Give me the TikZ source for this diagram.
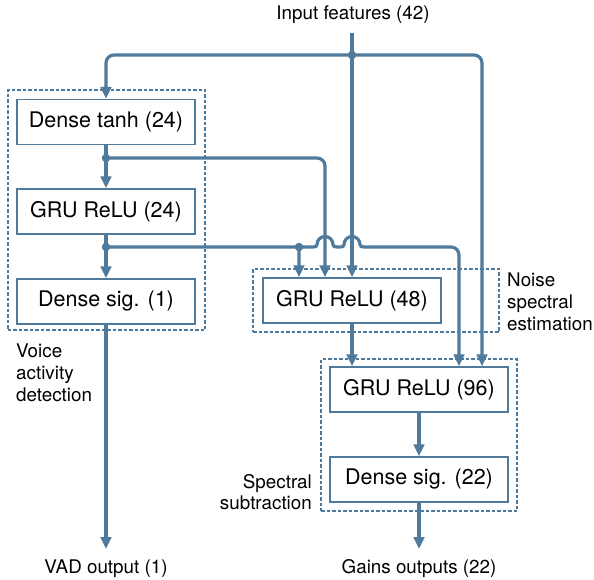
\documentclass[tikz,border=0pt]{standalone}
\usepackage{fontspec}
\setmainfont{TeX Gyre Heros}
\usetikzlibrary{arrows.meta}
\definecolor{lc}{HTML}{4F7A9B}
\begin{document}
\begin{tikzpicture}[x=1bp,y=-1bp,
  box/.style={draw=lc,line width=1.3bp,minimum width=178bp,minimum height=45bp,inner sep=0pt,
    font=\fontsize{21.5bp}{26bp}\selectfont},
  grp/.style={draw=lc,line width=1.1bp,dash pattern=on 3.5bp off 2bp,inner sep=0pt,outer sep=0pt},
  lbl/.style={inner sep=0pt,font=\fontsize{18.8bp}{21.7bp}\selectfont},
  wire/.style={draw=lc,line width=3.2bp,rounded corners=8bp},
  conn/.style={wire,-{Triangle[width=10.5bp,length=12bp]}},
  dot/.style={circle,fill=lc,inner sep=0pt,minimum size=8.5bp},
]
\useasboundingbox (0,0) rectangle (594,580);

% groups
\node[grp,minimum width=197bp,minimum height=240bp] (gVAD) at (106.5,210) {};
\node[grp,minimum width=246bp,minimum height=63bp] (gNSE) at (376,300.5) {};
\node[grp,minimum width=196bp,minimum height=152bp] (gSS) at (419,435) {};

% boxes
\node[box] (DT) at (106,122) {Dense tanh (24)};
\node[box] (G24) at (106,211.5) {GRU ReLU (24)};
\node[box] (DS1) at (106,301.5) {Dense sig. (1)};
\node[box] (G48) at (352,300.5) {GRU ReLU (48)};
\node[box] (G96) at (419,389.5) {GRU ReLU (96)};
\node[box] (DS22) at (419,479.5) {Dense sig. (22)};

% labels
\node[lbl] (inp) at (353,15) {Input features (42)};
\node[lbl] (vad) at (106,569) {VAD output (1)};
\node[lbl] (gains) at (419,569) {Gains outputs (22)};
\node[lbl,align=left,anchor=north west] (lvad) at (16,344) {Voice\\activity\\detection};
\node[lbl,align=left,anchor=north west] (lnse) at (507,273) {Noise\\spectral\\estimation};
\node[lbl,align=right,anchor=north east] (lss) at (312,474) {Spectral\\subtraction};

% coordinates
\coordinate (in0) at (352,33);
\coordinate (j0) at (352,55);
\coordinate (j1) at (106,158);
\coordinate (j2) at (106,247);
\coordinate (j3) at (299,247);
\coordinate (vadend) at (106,549);
\coordinate (gainend) at (419,549);

% connectors
\draw[wire] (in0) -- (j0);
\draw[conn] (j0) -| (DT.north);
\draw[conn] (j0) -- (j0 |- G48.north);
\draw[conn] (j0) -| ([xshift=63bp]G96.north);
\draw[conn] (DT) -- (G24);
\draw[conn] (j1) -| ([xshift=-27bp]G48.north);
\draw[conn] (G24) -- (DS1);
\draw[conn] (j3) -- ([xshift=-53bp]G48.north);
\draw[wire,sharp corners] (j2) -- (j3) -- (313,247)
  .. controls (315.5,247) and (317,246.5) .. (317,244.5)
  arc[start angle=180,end angle=0,radius=8bp]
  .. controls (333,246.5) and (334.5,247) .. (337,247)
  -- (340,247)
  .. controls (342.5,247) and (344,246.5) .. (344,244.5)
  arc[start angle=180,end angle=0,radius=8bp]
  .. controls (360,246.5) and (361.5,247) .. (364,247);
\coordinate (hopend) at (364,247);
\draw[conn] (hopend) -| ([xshift=40bp]G96.north);
\draw[conn] (G48.south) -- (G48.south |- G96.north);
\draw[conn] (G96) -- (DS22);
\draw[conn] (DS22) -- (gainend);
\draw[conn] (DS1) -- (vadend);

% junction dots
\node[dot] (d0) at (j0) {};
\node[dot] (d1) at (j1) {};
\node[dot] (d2) at (j2) {};
\node[dot] (d3) at (j3) {};
\end{tikzpicture}
\end{document}
